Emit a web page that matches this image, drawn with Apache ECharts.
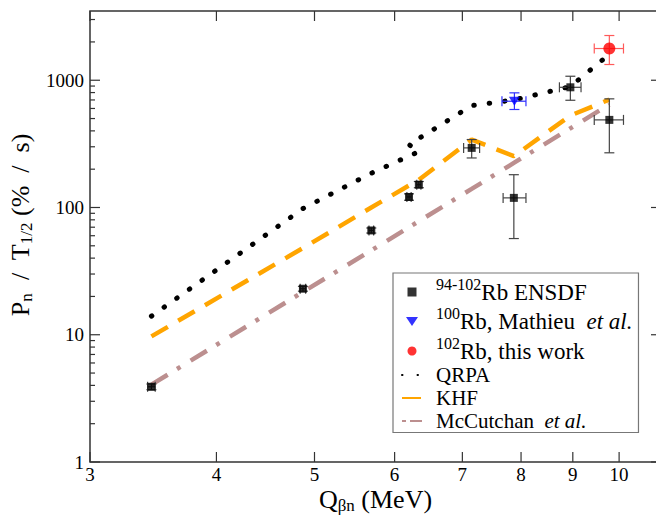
<!DOCTYPE html>
<html><head><meta charset="utf-8">
<script src="https://cdn.jsdelivr.net/npm/echarts@6/dist/echarts.min.js"></script>
<style>html,body{margin:0;padding:0;background:#fff}#c{width:656px;height:518px}</style>
</head><body><div id="c"></div>
<script>
// ---------- data ----------
const X_MIN = 3, X_MAX = 11, Y_MIN = 1, Y_MAX = 3500;
const xTickValues = [3, 4, 5, 6, 7, 8, 9, 10];
const yMajorTicks = [1, 10, 100, 1000];
const yMinorTicks = [2, 3, 4, 5, 6, 7, 8, 9, 20, 30, 40, 50, 60, 70, 80, 90,
                     200, 300, 400, 500, 600, 700, 800, 900, 2000, 3000];

// 94-102Rb ENSDF
const ensdfX   = [3.45, 4.87, 5.69, 6.20, 6.34, 7.15, 7.87, 8.95, 9.78];
const ensdfY   = [3.9, 23, 66, 121, 151, 294, 119, 880, 488];
const ensdfXLo = [3.42, 4.84, 5.66, 6.17, 6.31, 7.02, 7.68, 8.73, 9.45];
const ensdfXHi = [3.48, 4.90, 5.72, 6.23, 6.37, 7.28, 8.09, 9.17, 10.1];
const ensdfYLo = [3.7, 22, 63, 114, 143, 245, 57, 696, 269];
const ensdfYHi = [4.1, 24, 69, 128, 160, 342, 181, 1075, 714];

// 100Rb, Mathieu et al.
const mathX = [7.88], mathY = [684];
const mathXLo = [7.66], mathXHi = [8.09], mathYLo = [589], mathYHi = [796];

// 102Rb, this work
const workX = [9.78], workY = [1775];
const workXLo = [9.45], workXHi = [10.1], workYLo = [1329], workYHi = [2246];

// QRPA
const qrpaX = [3.45, 4.87, 5.69, 6.34, 6.20, 7.15, 7.87, 8.95, 9.78];
const qrpaY = [14, 98, 186, 275, 312, 632, 700, 892, 1600];
// KHF
const khfX = [3.45, 4.87, 5.69, 6.20, 6.34, 7.15, 7.87, 8.95, 9.78];
const khfY = [9.7, 48, 100, 149, 165, 342, 253, 528, 705];
// McCutchan et al.
const mccX = [3.45, 4.87, 5.69, 6.20, 6.34, 7.15, 7.87, 8.95, 9.78];
const mccY = [4.05, 21.7, 46, 70, 78, 140, 224, 419, 644];

// ---------- chart ----------
const SERIF = '"Liberation Serif","Times New Roman",serif';
const pairs = (xs, ys) => xs.map((x, i) => [x, ys[i]]);
const errRows = (xs, ys, xl, xh, yl, yh) => xs.map((x, i) => [x, ys[i], xl[i], xh[i], yl[i], yh[i]]);

function frameRender(params, api) {
  const ch = [];
  const st = { stroke: '#333', lineWidth: 1.2 };
  const seg = (a, b) => ch.push({ type: 'line', shape: { x1: a[0], y1: a[1], x2: b[0], y2: b[1] }, style: st });
  const lab = (t, x, y, align, va) => ch.push({ type: 'text', style: { text: t, x: x, y: y, align: align, verticalAlign: va, font: '19px ' + SERIF, fill: '#000' } });
  xTickValues.forEach(v => {
    const b = api.coord([v, Y_MIN]), t = api.coord([v, Y_MAX]);
    seg(b, [b[0], b[1] - 10]); seg(t, [t[0], t[1] + 10]);
    lab(String(v), b[0], b[1] + 12, 'center', 'middle');
  });
  yMajorTicks.forEach(v => {
    const l = api.coord([X_MIN, v]), r = api.coord([X_MAX, v]);
    seg(l, [l[0] + 10, l[1]]); seg(r, [r[0] - 10, r[1]]);
    lab(String(v), l[0] - 6, l[1], 'right', 'middle');
  });
  yMinorTicks.forEach(v => {
    const l = api.coord([X_MIN, v]), r = api.coord([X_MAX, v]);
    seg(l, [l[0] + 5, l[1]]); seg(r, [r[0] - 5, r[1]]);
  });
  return { type: 'group', children: ch };
}

function errRender(color) {
  return function (params, api) {
    const x = api.value(0), y = api.value(1);
    const pL = api.coord([api.value(2), y]), pR = api.coord([api.value(3), y]);
    const pB = api.coord([x, api.value(4)]), pT = api.coord([x, api.value(5)]);
    const c = 5, st = { stroke: color, lineWidth: 1.2 };
    const L = (a, b) => ({ type: 'line', shape: { x1: a[0], y1: a[1], x2: b[0], y2: b[1] }, style: st });
    return { type: 'group', children: [
      L(pL, pR), L([pL[0], pL[1] - c], [pL[0], pL[1] + c]), L([pR[0], pR[1] - c], [pR[0], pR[1] + c]),
      L(pB, pT), L([pB[0] - c, pB[1]], [pB[0] + c, pB[1]]), L([pT[0] - c, pT[1]], [pT[0] + c, pT[1]])
    ] };
  };
}

const legendLabels = {
  'ENSDF': '{sp| }{sup|94-102}{m|Rb ENSDF}',
  'Mathieu': '{sp| }{sup|100}{m|Rb, Mathieu  }{mi|et al.}',
  'ThisWork': '{sp| }{sup|102}{m|Rb, this work}',
  'QRPA': '{sp| }{p|QRPA}',
  'KHF': '{sp| }{p|KHF}',
  'McCutchan': '{sp| }{p|McCutchan  }{pi|et al.}'
};

const titleRich = {
  m: { fontFamily: SERIF, fontSize: 26, lineHeight: 30, verticalAlign: 'middle', color: '#000' },
  s: { fontFamily: SERIF, fontSize: 17, lineHeight: 12, verticalAlign: 'bottom', color: '#000' }
};

const chart = echarts.init(document.getElementById('c'), null, { renderer: 'svg' });
chart.setOption({
  animation: false,
  backgroundColor: '#fff',
  textStyle: { fontFamily: SERIF },
  grid: { left: 90, top: 11, width: 571, height: 451, show: true, borderColor: '#333', borderWidth: 1.5,
          containLabel: false, outerBoundsMode: 'none' },
  xAxis: {
    type: 'log', logBase: 10, min: X_MIN, max: X_MAX,
    axisLine: { show: false }, axisTick: { show: false }, axisLabel: { show: false }, splitLine: { show: false },
    name: '{m|Q}{s|βn}{m| (MeV)}', nameLocation: 'middle', nameGap: 22,
    nameTextStyle: { color: '#000', rich: titleRich }
  },
  yAxis: {
    type: 'log', logBase: 10, min: Y_MIN, max: Y_MAX,
    axisLine: { show: false }, axisTick: { show: false }, axisLabel: { show: false }, splitLine: { show: false },
    name: '{m|P}{s|n}{m|  /  T}{s|1/2}{m| (%  /  s)}', nameLocation: 'middle', nameGap: 55,
    nameTextStyle: { color: '#000', padding: [0, 0, 0, 23], rich: titleRich }
  },
  legend: {
    orient: 'vertical', left: 393, top: 273, padding: [3, 6, 1, 8], itemGap: 2,
    itemWidth: 20, itemHeight: 9, selectedMode: false, symbolRotate: 0,
    borderColor: '#777', borderWidth: 1.2, backgroundColor: '#fff',
    data: [
      { name: 'ENSDF', icon: 'path://M0,0L9,0L9,9L0,9Z' },
      { name: 'Mathieu', icon: 'path://M0,0L12,0L6,9Z' },
      { name: 'ThisWork', icon: 'circle' },
      { name: 'QRPA', itemStyle: { opacity: 0 } },
      { name: 'KHF', itemStyle: { opacity: 0 } },
      { name: 'McCutchan', itemStyle: { opacity: 0 }, lineStyle: { type: [4, 4, 12, 100] } }
    ],
    formatter: n => legendLabels[n],
    textStyle: { color: '#000', fontFamily: SERIF, fontSize: 23, rich: {
      sp: { width: 9, fontSize: 10, lineHeight: 10 },
      sup: { fontFamily: SERIF, fontSize: 16, lineHeight: 26.5, verticalAlign: 'top', color: '#000' },
      m: { fontFamily: SERIF, fontSize: 23, lineHeight: 32, verticalAlign: 'middle', color: '#000' },
      mi: { fontFamily: SERIF, fontSize: 23, lineHeight: 32, verticalAlign: 'middle', fontStyle: 'italic', color: '#000' },
      p: { fontFamily: SERIF, fontSize: 21, lineHeight: 16.5, verticalAlign: 'middle', color: '#000' },
      pi: { fontFamily: SERIF, fontSize: 21, lineHeight: 16.5, verticalAlign: 'middle', fontStyle: 'italic', color: '#000' } } }
  },
  series: [
    { type: 'custom', name: 'frame', renderItem: frameRender, data: [[X_MIN, Y_MIN]], clip: false, silent: true, z: 10 },
    { type: 'line', name: 'QRPA', data: pairs(qrpaX, qrpaY), symbol: 'none', showSymbol: false, z: 2,
      lineStyle: { color: '#000', width: 5, type: [0.5, 15], cap: 'round' }, itemStyle: { color: '#000' } },
    { type: 'line', name: 'KHF', data: pairs(khfX, khfY), symbol: 'none', showSymbol: false, z: 2,
      lineStyle: { color: '#ffa500', width: 4.5, type: [19, 12] }, itemStyle: { color: '#ffa500' } },
    { type: 'line', name: 'McCutchan', data: pairs(mccX, mccY), symbol: 'none', showSymbol: false, z: 2,
      lineStyle: { color: '#bc8f8f', width: 4.5, type: [19, 11, 4, 12] }, itemStyle: { color: '#bc8f8f' } },
    { type: 'custom', name: 'ensdfErr', renderItem: errRender('#444'), encode: { x: 0, y: 1 }, silent: true, z: 3,
      dimensions: ['x', 'y', 'xl', 'xh', 'yl', 'yh'],
      data: errRows(ensdfX, ensdfY, ensdfXLo, ensdfXHi, ensdfYLo, ensdfYHi) },
    { type: 'custom', name: 'mathErr', renderItem: errRender('#3030ff'), encode: { x: 0, y: 1 }, silent: true, z: 3,
      dimensions: ['x', 'y', 'xl', 'xh', 'yl', 'yh'],
      data: errRows(mathX, mathY, mathXLo, mathXHi, mathYLo, mathYHi) },
    { type: 'custom', name: 'workErr', renderItem: errRender('#ff5a5a'), encode: { x: 0, y: 1 }, silent: true, z: 3,
      dimensions: ['x', 'y', 'xl', 'xh', 'yl', 'yh'],
      data: errRows(workX, workY, workXLo, workXHi, workYLo, workYHi) },
    { type: 'scatter', name: 'ENSDF', data: pairs(ensdfX, ensdfY), symbol: 'rect', symbolSize: 8, z: 4,
      itemStyle: { color: '#000' } },
    { type: 'scatter', name: 'Mathieu', data: pairs(mathX, mathY), symbol: 'triangle', symbolRotate: 180,
      symbolSize: [11, 9], z: 4, itemStyle: { color: '#0000ff' } },
    { type: 'scatter', name: 'ThisWork', data: pairs(workX, workY), symbol: 'circle', symbolSize: 12, z: 4,
      itemStyle: { color: '#ff0000' } }
  ]
});
</script></body></html>
